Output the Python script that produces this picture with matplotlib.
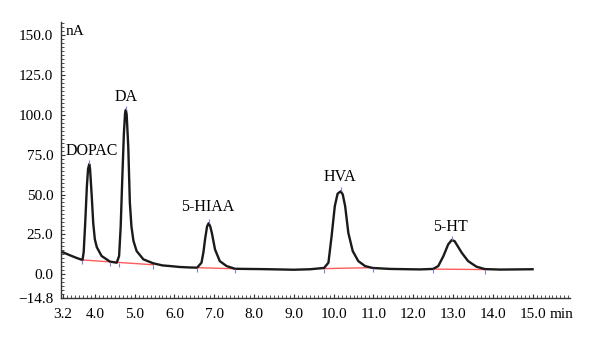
import matplotlib
matplotlib.use("Agg")
import matplotlib.pyplot as plt
from matplotlib.ticker import MultipleLocator, FixedLocator

plt.rcParams['font.family'] = ['Liberation Serif', 'DejaVu Serif']

# chromatogram trace (min, nA)
time = [3.20, 3.38, 3.55, 3.69, 3.72, 3.76, 3.80, 3.83, 3.86, 3.88, 3.92, 3.96,
        4.00, 4.05, 4.17, 4.38, 4.55, 4.61, 4.65, 4.69, 4.73, 4.76, 4.78, 4.80,
        4.84, 4.88, 4.92, 4.97, 5.05, 5.22, 5.47, 5.70, 5.89, 6.14, 6.40, 6.57,
        6.68, 6.73, 6.77, 6.82, 6.86, 6.90, 6.94, 7.02, 7.14, 7.31, 7.52, 7.80,
        8.15, 8.60, 9.00, 9.41, 9.76, 9.87, 9.95, 10.03, 10.10, 10.18, 10.23,
        10.29, 10.37, 10.48, 10.62, 10.79, 10.98, 11.42, 11.90, 12.17, 12.50,
        12.63, 12.76, 12.88, 12.97, 13.04, 13.09, 13.22, 13.38, 13.59, 13.80,
        14.18, 14.60, 15.00]
signal = [13.8, 11.9, 10.2, 9.0, 14.0, 33.0, 55.0, 66.0, 69.0, 66.0, 50.0, 32.0,
          22.0, 17.0, 11.5, 8.0, 7.3, 11.5, 30.0, 60.0, 88.0, 101.0, 103.0, 100.0,
          80.0, 45.0, 30.0, 21.0, 14.6, 9.4, 6.9, 5.6, 5.2, 4.6, 4.3, 4.2,
          7.3, 14.0, 22.0, 30.0, 32.0, 30.0, 26.0, 15.6, 8.3, 5.2, 3.5, 3.4,
          3.3, 3.1, 2.9, 3.2, 4.0, 7.3, 24.0, 42.7, 50.5, 52.0, 50.0,
          42.7, 26.0, 14.6, 8.3, 5.2, 4.0, 3.4, 3.2, 3.1, 3.4,
          5.2, 11.5, 18.8, 21.5, 20.8, 18.8, 13.5, 8.3, 4.8, 3.3,
          3.0, 3.1, 3.2]

# integration baselines (start, end)
base_x = [(3.69, 5.47), (6.57, 7.52), (9.76, 10.98), (12.50, 13.80)]
base_y = [(9.0, 6.0), (4.2, 3.5), (3.6, 4.2), (3.3, 3.0)]

# peak marks
mark_x = [3.69, 4.38, 4.60, 5.47, 6.57, 7.52, 9.76, 10.98, 12.50, 13.80]
mark_y = [9.0, 7.8, 7.4, 6.0, 4.2, 3.5, 3.6, 4.2, 3.3, 3.0]
apex_x = [3.86, 4.78, 6.86, 10.18, 12.97]
apex_y = [69.0, 103.0, 32.0, 52.0, 21.5]

peak_names = ['DOPAC', 'DA', '5-HIAA', 'HVA', '5-HT']
label_x = [3.93, 4.79, 6.84, 10.16, 12.93]
label_y = [77.5, 111.0, 42.0, 61.0, 29.4]

xticks = [3.2, 4.0, 5.0, 6.0, 7.0, 8.0, 9.0, 10.0, 11.0, 12.0, 13.0, 14.0, 15.0]
yticks = [-14.8, 0.0, 25.0, 50.0, 75.0, 100.0, 125.0, 150.0]

fig = plt.figure(figsize=(6, 3.41), dpi=100)
ax = fig.add_axes([61 / 600, 43 / 341, 509 / 600, 276 / 341])

for (x0, x1), (y0, y1) in zip(base_x, base_y):
    ax.plot([x0, x1], [y0, y1], color='#ff5c5c', lw=1.0, zorder=2)

ax.plot(time, signal, color='#1a1a1a', lw=1.7, zorder=3)

ax.plot(mark_x, mark_y, ls='none', marker=3, ms=3, mew=0.8, color='#8080d8', zorder=4)
ax.plot(apex_x, apex_y, ls='none', marker=2, ms=3, mew=0.8, color='#8080d8', zorder=4)

for name, lx, ly in zip(peak_names, label_x, label_y):
    ax.text(lx, ly, name, ha='center', va='center', fontsize=11.5)

ax.set_xlim(3.15, 15.94)
ax.set_ylim(-14.8, 158)

ax.xaxis.set_major_locator(FixedLocator(xticks))
ax.set_xticklabels(['%.1f' % t for t in xticks])
ax.yaxis.set_major_locator(FixedLocator(yticks))
ax.set_yticklabels([('%.1f' % t).replace('-', '\u2212') for t in yticks])
ax.xaxis.set_minor_locator(MultipleLocator(0.1))
ax.yaxis.set_minor_locator(MultipleLocator(2.5))
ax.tick_params(which='both', direction='in', labelsize=11, color='#333333')
ax.tick_params(which='major', length=3, width=0.8)
ax.tick_params(which='minor', length=2, width=0.6)
ax.tick_params(axis='x', pad=7)
ax.tick_params(axis='y', pad=5.5)

for s in ['top', 'right']:
    ax.spines[s].set_visible(False)
for s in ['left', 'bottom']:
    ax.spines[s].set_linewidth(1.0)
    ax.spines[s].set_color('#333333')

ax.text(0.01, 0.967, 'nA', transform=ax.transAxes, ha='left', va='center', fontsize=11)
ax.text(0.984, -0.058, 'min', transform=ax.transAxes, ha='center', va='center', fontsize=11)

fig.savefig('out.png', dpi=100)
